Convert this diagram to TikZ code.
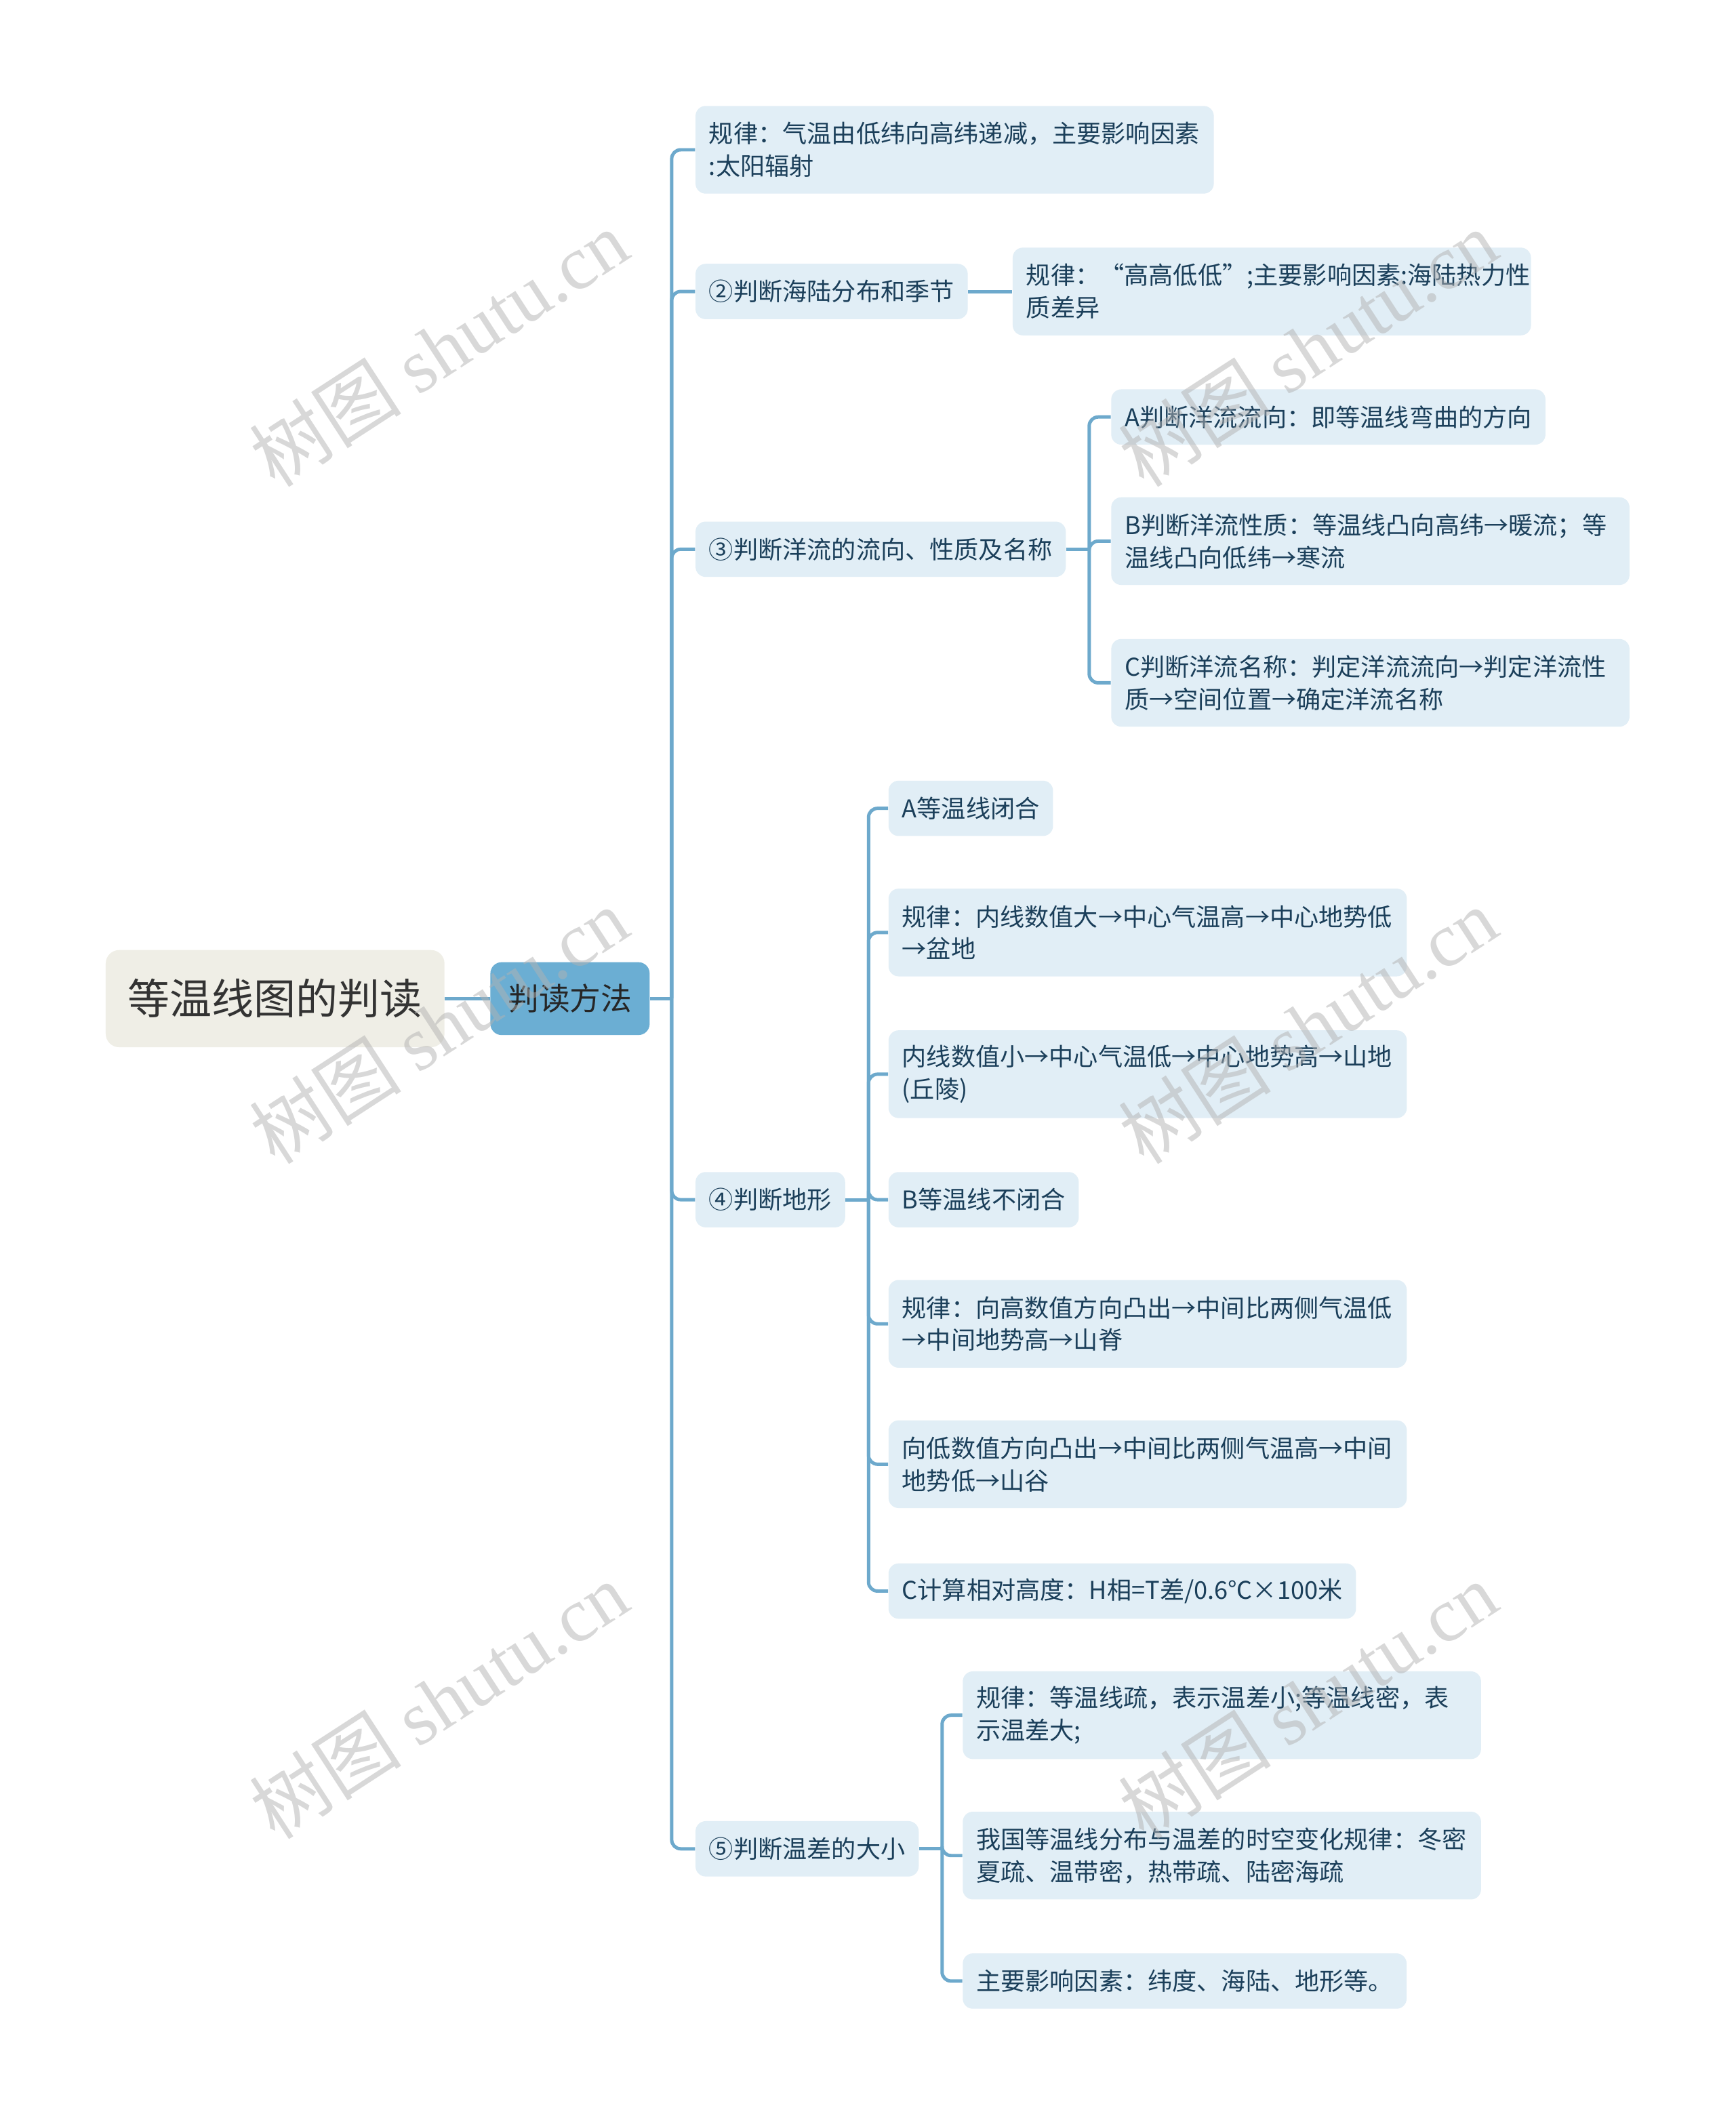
\documentclass[tikz,border=0pt]{standalone}
\usepackage{fontspec}
\setmainfont{Noto Sans CJK SC}
\newfontfamily\wmlatin{Liberation Serif}
\definecolor{rootbg}{HTML}{EFEEE6}
\definecolor{mainbg}{HTML}{6BAED3}
\definecolor{leafbg}{HTML}{E1EEF6}
\definecolor{linkcol}{HTML}{6DA9CC}
\definecolor{leaftxt}{HTML}{1B3F5A}

\begin{document}
\begin{tikzpicture}[x=0.6pt,y=-0.6pt,
  link/.style={draw=linkcol, line width=1.5pt, rounded corners=4pt},
  topic/.style={anchor=west, fill=leafbg, rounded corners=4.5pt, text=leaftxt,
    font=\fontsize{10.9pt}{14.4pt}\selectfont, inner xsep=6pt, inner ysep=0pt, minimum height=24.6pt},
  wide/.style={topic, text width=218.4pt, align=left, minimum height=39pt},
  wmark/.style={rotate=33, text=gray!60, text opacity=0.5, font=\fontsize{34pt}{34pt}\selectfont}]
  \fill[white] (0,0) rectangle (1286,1568);

  \node[anchor=west, fill=rootbg, rounded corners=6pt, minimum width=150.6pt, minimum height=43.2pt,
    text=black!80, font=\fontsize{18.7pt}{22pt}\selectfont] (root) at (78,740) {等温线图的判读};
  \node[anchor=west, fill=mainbg, rounded corners=5pt, minimum width=70.8pt, minimum height=32.4pt,
    text=black!85, font=\fontsize{13.8pt}{16pt}\selectfont] (method) at (363,740) {判读方法};

  \node[wide] (lat) at (515,111) {规律：气温由低纬向高纬递减，主要影响因素\\:太阳辐射};
  \node[topic] (sea) at (515,216) {②判断海陆分布和季节};
  \node[wide] (seaR) at (750,216) {规律：“高高低低”;主要影响因素:海陆热力性\\质差异};

  \node[topic] (cur) at (515,407) {③判断洋流的流向、性质及名称};
  \node[topic] (curA) at (823,309) {A判断洋流流向：即等温线弯曲的方向};
  \node[wide] (curB) at (823,401) {B判断洋流性质：等温线凸向高纬→暖流；等\\温线凸向低纬→寒流};
  \node[wide] (curC) at (823,506) {C判断洋流名称：判定洋流流向→判定洋流性\\质→空间位置→确定洋流名称};

  \node[topic] (ter) at (515,889) {④判断地形};
  \node[topic] (terA) at (658,599) {A等温线闭合};
  \node[wide] (terA1) at (658,691) {规律：内线数值大→中心气温高→中心地势低\\→盆地};
  \node[wide] (terA2) at (658,796) {内线数值小→中心气温低→中心地势高→山地\\(丘陵)};
  \node[topic] (terB) at (658,889) {B等温线不闭合};
  \node[wide] (terB1) at (658,981) {规律：向高数值方向凸出→中间比两侧气温低\\→中间地势高→山脊};
  \node[wide] (terB2) at (658,1085) {向低数值方向凸出→中间比两侧气温高→中间\\地势低→山谷};
  \node[topic] (terC) at (658,1179) {C计算相对高度：H相=T差/0.6℃×100米};

  \node[topic] (dif) at (515,1370) {⑤判断温差的大小};
  \node[wide] (difA) at (713,1271) {规律：等温线疏，表示温差小;等温线密，表\\示温差大;};
  \node[wide] (difB) at (713,1375) {我国等温线分布与温差的时空变化规律：冬密\\夏疏、温带密，热带疏、陆密海疏};
  \node[topic] (difC) at (713,1468) {主要影响因素：纬度、海陆、地形等。};

  \draw[link] (root.east) -- (method.west);
  \draw[link] (method.east) -- ++(16,0) coordinate (jm);
  \foreach \c in {lat,sea,cur,ter,dif} \draw[link] (jm) |- (\c.west);
  \draw[link] (sea.east) -- (seaR.west);
  \draw[link] (cur.east) -- ++(17,0) coordinate (jc);
  \foreach \c in {curA,curB,curC} \draw[link] (jc) |- (\c.west);
  \draw[link] (ter.east) -- ++(17,0) coordinate (jt);
  \foreach \c in {terA,terA1,terA2,terB,terB1,terB2,terC} \draw[link] (jt) |- (\c.west);
  \draw[link] (dif.east) -- ++(17,0) coordinate (jd);
  \foreach \c in {difA,difB,difC} \draw[link] (jd) |- (\c.west);

  %watermarks
  \foreach \wx/\wy [count=\i] in {325/258,969/258,325/760,969/760,325/1260,969/1260}
    \node[wmark] (wm\i) at (\wx,\wy) {树图 {\wmlatin shutu.cn}};
\end{tikzpicture}
\end{document}
